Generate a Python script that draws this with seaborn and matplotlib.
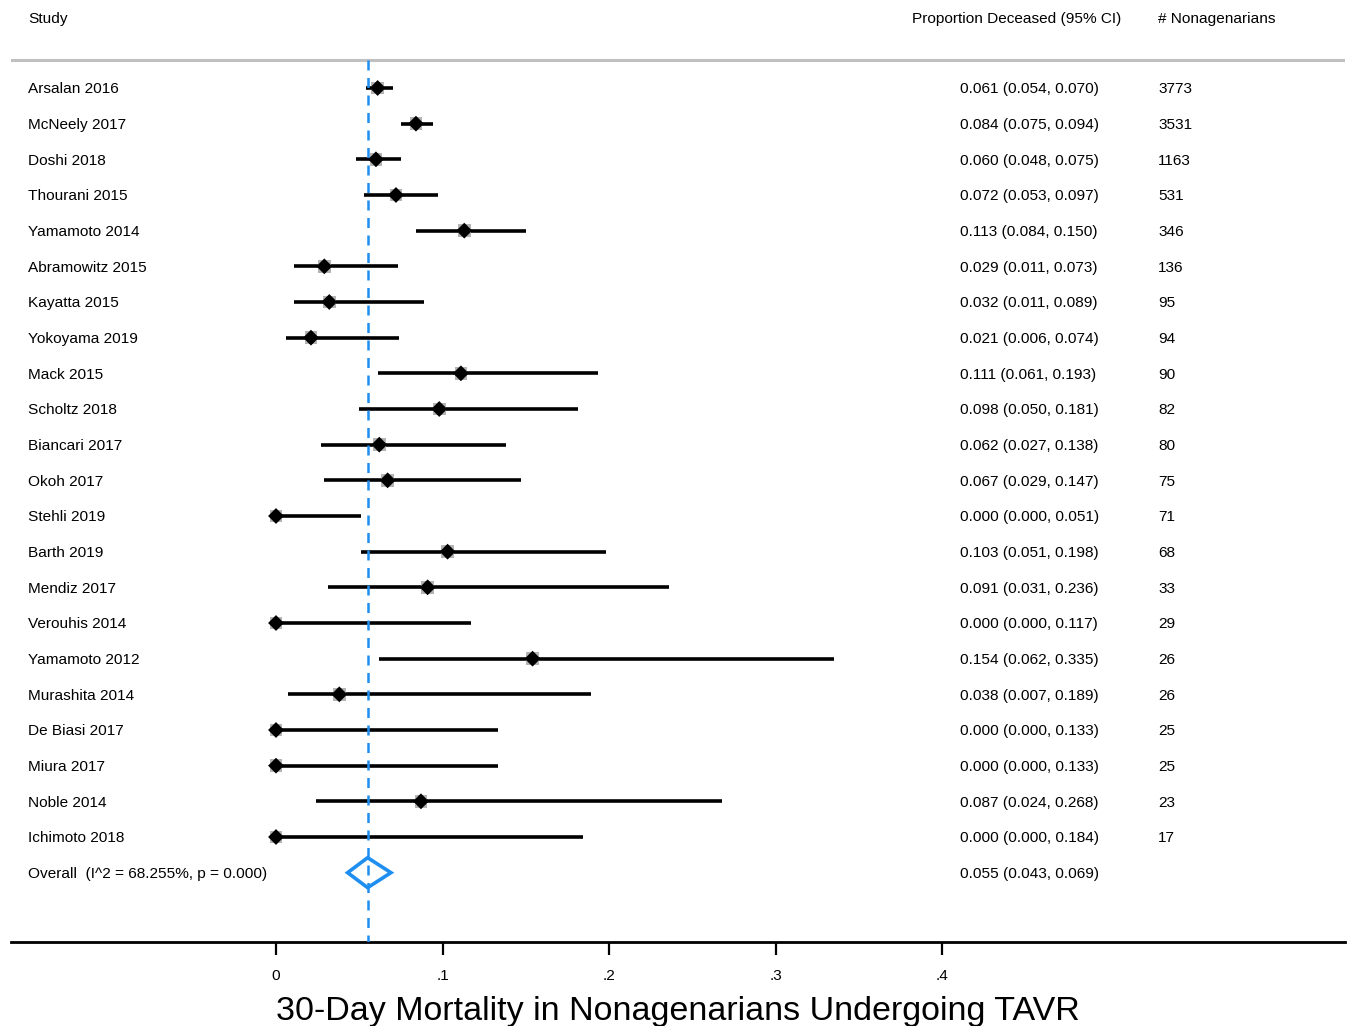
import pandas as pd
import matplotlib.pyplot as plt
import seaborn as sns

studies = ["Arsalan 2016", "McNeely 2017", "Doshi 2018", "Thourani 2015", "Yamamoto 2014",
           "Abramowitz 2015", "Kayatta 2015", "Yokoyama 2019", "Mack 2015", "Scholtz 2018",
           "Biancari 2017", "Okoh 2017", "Stehli 2019", "Barth 2019", "Mendiz 2017",
           "Verouhis 2014", "Yamamoto 2012", "Murashita 2014", "De Biasi 2017", "Miura 2017",
           "Noble 2014", "Ichimoto 2018"]
es = [0.061, 0.084, 0.060, 0.072, 0.113, 0.029, 0.032, 0.021, 0.111, 0.098, 0.062,
      0.067, 0.000, 0.103, 0.091, 0.000, 0.154, 0.038, 0.000, 0.000, 0.087, 0.000]
lo = [0.054, 0.075, 0.048, 0.053, 0.084, 0.011, 0.011, 0.006, 0.061, 0.050, 0.027,
      0.029, 0.000, 0.051, 0.031, 0.000, 0.062, 0.007, 0.000, 0.000, 0.024, 0.000]
hi = [0.070, 0.094, 0.075, 0.097, 0.150, 0.073, 0.089, 0.074, 0.193, 0.181, 0.138,
      0.147, 0.051, 0.198, 0.236, 0.117, 0.335, 0.189, 0.133, 0.133, 0.268, 0.184]
n_pat = [3773, 3531, 1163, 531, 346, 136, 95, 94, 90, 82, 80, 75, 71, 68, 33, 29, 26,
         26, 25, 25, 23, 17]
overall_es, overall_lo, overall_hi = 0.055, 0.043, 0.069
overall_label = "Overall  (I^2 = 68.255%, p = 0.000)"
ticks = [0, 0.1, 0.2, 0.3, 0.4]
tick_labels = ["0", ".1", ".2", ".3", ".4"]

df = pd.DataFrame({"study": studies, "es": es, "lo": lo, "hi": hi, "n": n_pat})
df["row"] = range(len(df))
n_rows = len(df)

sns.set_style("white")
plt.rcParams["font.family"] = ["Liberation Sans", "DejaVu Sans"]
plt.rcParams["text.color"] = "black"

fig = plt.figure(figsize=(13.48, 10.26), dpi=100)
ax = fig.add_axes([11 / 1348, 84 / 1026, 1334 / 1348, 942 / 1026])
ax.set_xlim(-0.15906, 0.64166)
ax.set_ylim(23.944, -2.467)

blue = "#1f8ef1"
fs = 11.1

# confidence intervals
ax.hlines(df["row"], df["lo"], df["hi"], color="black", lw=2.6, zorder=2)
# pooled estimate line
ax.vlines(overall_es, -0.785, 23.944, color=blue, lw=1.8, linestyles=(0, (4, 3)), zorder=3)
# weight boxes and point estimates
sns.scatterplot(data=df, x="es", y="row", marker="s", s=85, color="#b4b4b4",
                edgecolor="none", ax=ax, zorder=4, legend=False)
sns.scatterplot(data=df, x="es", y="row", marker="D", s=65, color="black",
                edgecolor="none", ax=ax, zorder=5, legend=False)

# overall diamond
r = n_rows
ax.fill([overall_lo, overall_es, overall_hi, overall_es, overall_lo],
        [r, r - 0.42, r, r + 0.42, r], facecolor="none", edgecolor=blue, lw=2.6, zorder=6)

# text columns
x_study, x_est, x_n = -0.1489, 0.4106, 0.5294
tkw = dict(va="center_baseline", ha="left", fontsize=fs, color="black")
for _, row in df.iterrows():
    ax.text(x_study, row["row"], row["study"], **tkw)
    ax.text(x_est, row["row"], f"{row['es']:.3f} ({row['lo']:.3f}, {row['hi']:.3f})", **tkw)
    ax.text(x_n, row["row"], f"{int(row['n'])}", **tkw)
ax.text(x_study, r, overall_label, **tkw)
ax.text(x_est, r, f"{overall_es:.3f} ({overall_lo:.3f}, {overall_hi:.3f})", **tkw)

# headers
ax.text(x_study, -1.99, "Study", **tkw)
ax.text(0.3815, -1.99, "Proportion Deceased (95% CI)", **tkw)
ax.text(x_n, -1.99, "# Nonagenarians", **tkw)
ax.axhline(-0.785, color="#c0c0c0", lw=2.2)

sns.despine(ax=ax, left=True, top=True, right=True)
ax.spines["bottom"].set_linewidth(2)
ax.spines["bottom"].set_color("black")
ax.set_yticks([])
ax.set_xticks(ticks)
ax.set_xticklabels(tick_labels, fontsize=fs, color="black")
ax.tick_params(axis="x", bottom=True, direction="out", length=9.5, width=1.6, pad=10,
               color="black")
ax.set_xlabel("")
ax.set_ylabel("")

fig.text(0.503, 0.006, "30-Day Mortality in Nonagenarians Undergoing TAVR",
         ha="center", va="baseline", fontsize=24.5, color="black")

fig.savefig("out.png", dpi=100)
